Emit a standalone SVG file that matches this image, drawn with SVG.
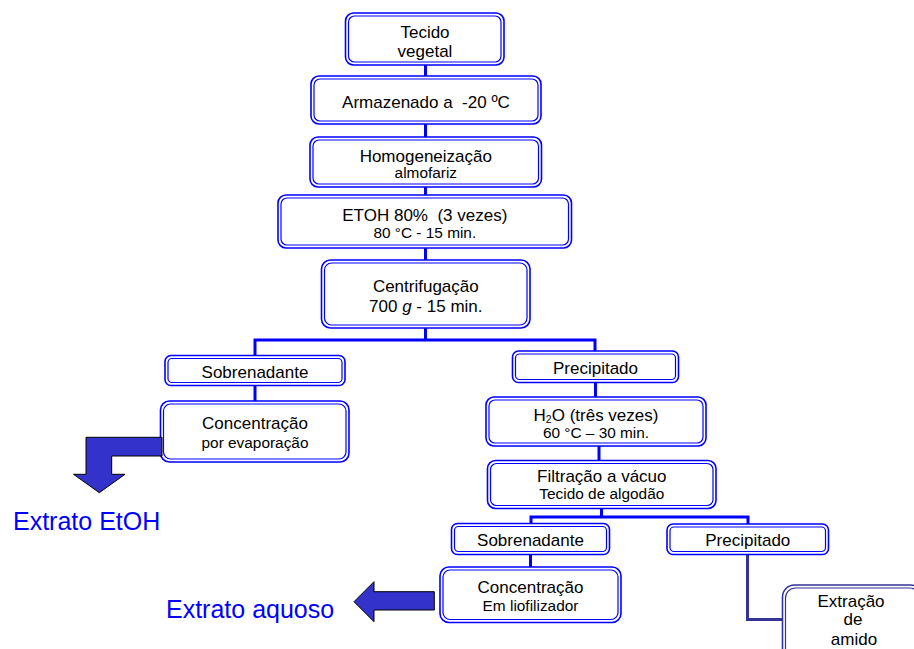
<svg xmlns="http://www.w3.org/2000/svg" width="914" height="649" viewBox="0 0 914 649">
<style>
.o{fill:#fff;stroke:#0000ff;stroke-width:1.6}
.i{fill:none;stroke:#0000ff;stroke-width:1.2}
.on{fill:#fff;stroke:#333399;stroke-width:1.6}
.in{fill:none;stroke:#333399;stroke-width:1.2}
.c{fill:none;stroke:#0000ff;stroke-width:3}
.cn{fill:none;stroke:#333399;stroke-width:3}
.t{font-family:"Liberation Sans",Arial,sans-serif;font-size:17px;text-anchor:middle;fill:#000}
.s{font-size:15.4px}
.big{font-family:"Liberation Sans",Arial,sans-serif;font-size:25px;fill:#0000ff}
.ar{fill:#3333cc;stroke:#000;stroke-width:1}
</style>
<rect width="914" height="649" fill="#fff"/>
<g id="connectors">
<path class="c" d="M425.5 65V340"/>
<path class="c" d="M255 356V340H595V351"/>
<path class="c" d="M255 385V401"/>
<path class="c" d="M595.5 382V397M599 446V461M601.5 508V517"/>
<path class="c" d="M531 523.5V517H748V524"/>
<path class="c" d="M530.5 554V567"/>
<path class="cn" d="M747.5 554V619.5H783"/>
</g>
<g id="n1"><rect class="o" x="345.5" y="13" width="158.5" height="52" rx="8"/><rect class="i" x="348.5" y="16" width="152.5" height="46" rx="6"/>
<text class="t" x="425" y="37.5">Tecido</text><text class="t" x="425" y="56.5">vegetal</text></g>
<g id="n2"><rect class="o" x="311" y="76" width="230" height="48" rx="8"/><rect class="i" x="314" y="79" width="224" height="42" rx="6"/>
<text class="t" x="426" y="108.3" xml:space="preserve">Armazenado a  -20 ºC</text></g>
<g id="n3"><rect class="o" x="310" y="137" width="231.5" height="50" rx="8"/><rect class="i" x="313" y="140" width="225.5" height="44" rx="6"/>
<text class="t" x="425.8" y="161.7">Homogeneização</text><text class="t s" x="425.8" y="178.3">almofariz</text></g>
<g id="n4"><rect class="o" x="278" y="195" width="293.5" height="53" rx="8"/><rect class="i" x="281" y="198" width="287.5" height="47" rx="6"/>
<text class="t" x="424.8" y="220.7" xml:space="preserve">ETOH 80%  (3 vezes)</text><text class="t s" x="424.8" y="238.3">80 °C - 15 min.</text></g>
<g id="n5"><rect class="o" x="321.5" y="260" width="208.5" height="68" rx="9"/><rect class="i" x="324.5" y="263" width="202.5" height="62" rx="7"/>
<text class="t" x="425.8" y="292.3">Centrifugação</text><text class="t" x="425.8" y="311.7">700 <tspan font-style="italic">g</tspan> - 15 min.</text></g>
<g id="n6"><rect class="o" x="165" y="355.5" width="180" height="30" rx="6"/><rect class="i" x="168" y="358.5" width="174" height="24" rx="4"/>
<text class="t" x="255" y="378.3">Sobrenadante</text></g>
<g id="n7"><rect class="o" x="160.5" y="401" width="188.5" height="61" rx="9"/><rect class="i" x="163.5" y="404" width="182.5" height="55" rx="7"/>
<text class="t" x="255" y="429.3">Concentração</text><text class="t s" x="255" y="448.3">por evaporação</text></g>
<g id="n8"><rect class="o" x="512.5" y="351" width="166" height="31.5" rx="6"/><rect class="i" x="515.5" y="354" width="160" height="25.5" rx="4"/>
<text class="t" x="595.5" y="374.3">Precipitado</text></g>
<g id="n9"><rect class="o" x="486" y="397" width="220" height="49" rx="8"/><rect class="i" x="489" y="400" width="214" height="43" rx="6"/>
<text class="t" x="596" y="420.5">H<tspan font-size="10.5" dy="2.5">2</tspan><tspan dy="-2.5">O (três vezes)</tspan></text><text class="t s" x="596" y="438.3">60 °C – 30 min.</text></g>
<g id="n10"><rect class="o" x="487.5" y="460.5" width="228.5" height="48" rx="8"/><rect class="i" x="490.5" y="463.5" width="222.5" height="42" rx="6"/>
<text class="t" x="601.8" y="481.7">Filtração a vácuo</text><text class="t s" x="601.8" y="499.3">Tecido de algodão</text></g>
<g id="n11"><rect class="o" x="451.5" y="523.5" width="158" height="31" rx="6"/><rect class="i" x="454.5" y="526.5" width="152" height="25" rx="4"/>
<text class="t" x="530.5" y="546">Sobrenadante</text></g>
<g id="n12"><rect class="o" x="440" y="567" width="181" height="55.5" rx="9"/><rect class="i" x="443" y="570" width="175" height="49.5" rx="7"/>
<text class="t" x="530.5" y="592.7">Concentração</text><text class="t s" x="530.5" y="610.7">Em liofilizador</text></g>
<g id="n13"><rect class="o" x="667" y="524" width="161.5" height="30.5" rx="6"/><rect class="i" x="670" y="527" width="155.5" height="24.5" rx="4"/>
<text class="t" x="747.8" y="546">Precipitado</text></g>
<g id="n14"><rect class="on" x="782.5" y="585" width="140" height="80" rx="12"/><rect class="in" x="785.5" y="588" width="134" height="74" rx="10"/>
<text class="t" x="851" y="606.7">Extração</text><text class="t" x="853" y="625">de</text><text class="t" x="854" y="645">amido</text></g>
<g id="out1"><path class="ar" d="M162 437.3H86V474.3H73.5L99.3 492.7L125 474.3H111.7V456H162Z"/>
<text class="big" x="13" y="530">Extrato EtOH</text></g>
<g id="out2"><path class="ar" d="M434.3 591.7H374V581.7L354 601.7L374 621.7V610H434.3Z"/>
<text class="big" x="166" y="618.3">Extrato aquoso</text></g>
</svg>
